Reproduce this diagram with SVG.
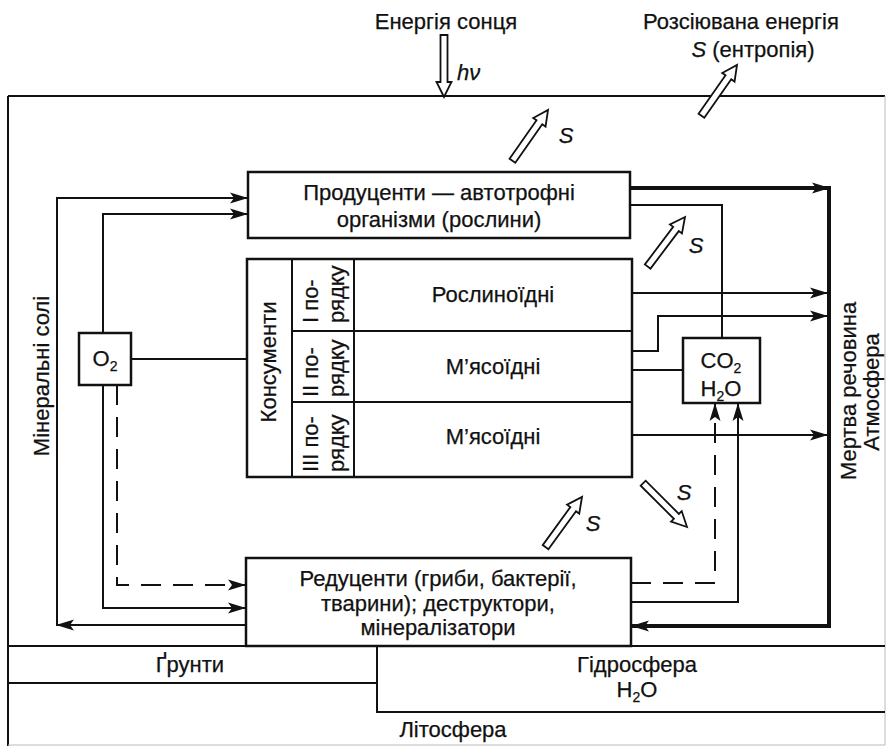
<svg xmlns="http://www.w3.org/2000/svg" xmlns:xlink="http://www.w3.org/1999/xlink" width="886" height="746" viewBox="0 0 886 746">
<style>
text{font-family:"Liberation Sans",Arial,sans-serif;font-size:22px;fill:#111;stroke:#111;stroke-width:0.25}
.c{text-anchor:middle}
.i{font-style:italic}
.box{fill:#fff;stroke:#111;stroke-width:2.5}
.ln{fill:none;stroke:#111;stroke-width:2}
.thick{fill:none;stroke:#111;stroke-width:4}
.dash{fill:none;stroke:#111;stroke-width:2;stroke-dasharray:20 12}
.sub{font-size:14px}
</style>
<defs>
<marker id="ah" markerUnits="userSpaceOnUse" markerWidth="18" markerHeight="12" viewBox="0 0 18 12" refX="17" refY="6" orient="auto">
<path d="M0,0.5 L18,6 L0,11.5 L4,6 Z" fill="#111"/>
</marker>
<path id="ha" d="M0,0 L7.5,15 L3.5,15 L3.5,62 L-3.5,62 L-3.5,15 L-7.5,15 Z" fill="#fff" stroke="#111" stroke-width="1.8"/>
</defs>
<rect width="886" height="746" fill="#fff"/>

<g id="frame">
<path class="ln" d="M8,96 H885 M8,96 V746"/>
<path d="M885,96 V745 H8" fill="none" stroke="#bbb" stroke-width="1"/>
</g>

<g id="titles">
<text class="c" x="446" y="29">Енергія сонця</text>
<text class="c" x="741" y="29">Розсіювана енергія</text>
<text class="c" x="753" y="57"><tspan class="i">S</tspan> (ентропія)</text>
<text class="i" x="457" y="80">hν</text>
</g>

<g id="layers">
<path class="ln" d="M8,646 H885 M8,683 H377 M885,712 H377 V646"/>
<text class="c" x="190" y="672">Ґрунти</text>
<text class="c" x="637" y="672">Гідросфера</text>
<text class="c" x="637" y="697">H<tspan class="sub" dy="5">2</tspan><tspan dy="-5">O</tspan></text>
<text class="c" x="453" y="737">Літосфера</text>
</g>

<g id="side-labels">
<text class="c" transform="translate(49,376) rotate(-90)">Мінеральні солі</text>
<text class="c" transform="translate(856,391) rotate(-90)">Мертва речовина</text>
<text class="c" transform="translate(879,392) rotate(-90)">Атмосфера</text>
</g>

<g id="connectors">
<path class="thick" d="M630,188 H829" marker-end="url(#ah)"/>
<path class="thick" d="M829,186 V626 H632" marker-end="url(#ah)"/>
<path class="ln" d="M630,205 H722 V338"/>
<path class="ln" d="M632,293 H827" marker-end="url(#ah)"/>
<path class="ln" d="M632,351 H658 V316 H827" marker-end="url(#ah)"/>
<path class="ln" d="M632,370 H683"/>
<path class="ln" d="M632,435 H827" marker-end="url(#ah)"/>
<path class="dash" d="M631,583 H715 V404" marker-end="url(#ah)"/>
<path class="ln" d="M631,602 H738 V404" marker-end="url(#ah)"/>
<path class="ln" d="M246,625 H57" marker-end="url(#ah)"/>
<path class="ln" d="M57,626 V198 H247" marker-end="url(#ah)"/>
<path class="ln" d="M103,333 V214 H247" marker-end="url(#ah)"/>
<path class="ln" d="M103,385 V608 H245" marker-end="url(#ah)"/>
<path class="dash" d="M117,385 V585 H245" marker-end="url(#ah)"/>
<path class="ln" d="M131,359 H247"/>
</g>

<g id="producers">
<rect class="box" x="248" y="172" width="382" height="66"/>
<text class="c" x="439" y="200">Продуценти — автотрофні</text>
<text class="c" x="439" y="227">організми (рослини)</text>
</g>

<g id="consumers">
<rect class="box" x="247" y="259" width="385" height="218"/>
<path class="ln" d="M292,259 V477 M354,259 V477 M292,331 H632 M292,402 H632" stroke-width="2.2"/>
<text class="c" transform="translate(276,362) rotate(-90)">Консументи</text>
<text transform="translate(318,323) rotate(-90)">I по-</text>
<text transform="translate(344,323) rotate(-90)">рядку</text>
<text transform="translate(318,397) rotate(-90)">II по-</text>
<text transform="translate(344,397) rotate(-90)">рядку</text>
<text transform="translate(318,472) rotate(-90)">III по-</text>
<text transform="translate(344,472) rotate(-90)">рядку</text>
<text class="c" x="493" y="302">Рослиноїдні</text>
<text class="c" x="493" y="374">М’ясоїдні</text>
<text class="c" x="493" y="444">М’ясоїдні</text>
</g>

<g id="o2">
<rect class="box" x="79" y="333" width="52" height="52"/>
<text class="c" x="105" y="366">O<tspan class="sub" dy="5">2</tspan></text>
</g>

<g id="co2">
<rect class="box" x="683" y="338" width="77" height="65"/>
<text class="c" x="721" y="368">CO<tspan class="sub" dy="5">2</tspan></text>
<text class="c" x="721" y="396">H<tspan class="sub" dy="5">2</tspan><tspan dy="-5">O</tspan></text>
</g>

<g id="reducers">
<rect class="box" x="246" y="558" width="385" height="88"/>
<text class="c" x="438" y="586">Редуценти (гриби, бактерії,</text>
<text class="c" x="438" y="611">тварини); деструктори,</text>
<text class="c" x="438" y="635">мінералізатори</text>
</g>

<g id="energy-arrows">
<use xlink:href="#ha" transform="translate(444,97) rotate(180)"/>
<use xlink:href="#ha" transform="translate(737,65) rotate(35)"/>
<use xlink:href="#ha" transform="translate(548,110) rotate(35)"/>
<use xlink:href="#ha" transform="translate(685,217) rotate(37)"/>
<use xlink:href="#ha" transform="translate(582,497) rotate(36)"/>
<use xlink:href="#ha" transform="translate(687,527) rotate(135)"/>
<text class="i c" x="566" y="143">S</text>
<text class="i c" x="696" y="253">S</text>
<text class="i c" x="684" y="500">S</text>
<text class="i c" x="593" y="531">S</text>
</g>
</svg>
